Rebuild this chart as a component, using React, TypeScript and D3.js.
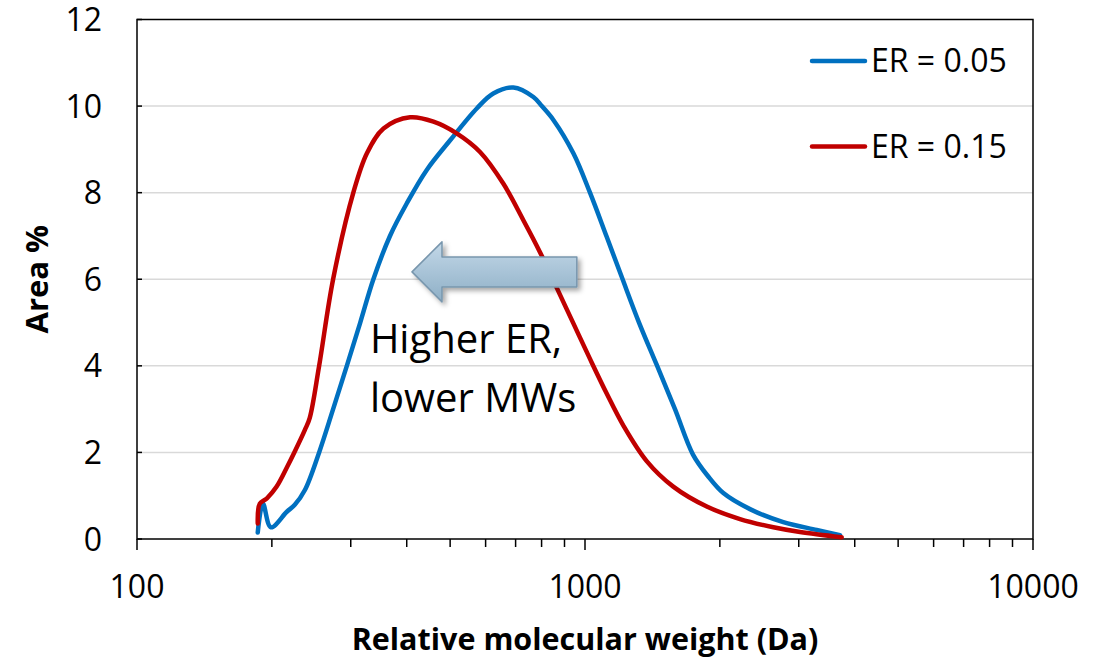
import { useEffect, useRef } from "react";
import * as d3 from "d3";

// ER = 0.05 series
const mwLow = [186, 191, 199, 216, 225, 237, 255, 274, 294, 315, 337, 367, 400, 443, 500, 574, 624, 692, 767, 801, 850, 942, 1026, 1118, 1208, 1320, 1446, 1588, 1742, 1882, 2036, 2335, 2771, 3290, 3709];
const areaLow = [0.15, 0.82, 0.27, 0.63, 0.79, 1.13, 2.0, 3.0, 4.0, 5.0, 6.0, 7.0, 7.75, 8.52, 9.21, 9.95, 10.29, 10.43, 10.21, 10.0, 9.68, 8.91, 8.0, 6.98, 6.05, 5.0, 4.02, 3.0, 1.95, 1.45, 1.06, 0.69, 0.39, 0.21, 0.09];

// ER = 0.15 series
const mwHigh = [186, 188, 195, 205, 216, 225, 237, 243, 255, 274, 304, 326, 355, 407, 459, 517, 583, 657, 728, 794, 865, 942, 1026, 1118, 1218, 1373, 1574, 1870, 2218, 2633, 3020, 3741];
const areaHigh = [0.36, 0.82, 0.94, 1.21, 1.65, 2.02, 2.52, 2.8, 4.0, 6.0, 8.0, 8.91, 9.48, 9.74, 9.64, 9.37, 8.94, 8.21, 7.37, 6.62, 5.8, 4.98, 4.16, 3.36, 2.62, 1.8, 1.21, 0.75, 0.46, 0.27, 0.16, 0.04];

const seriesNames = ["ER = 0.05", "ER = 0.15"];
const seriesColors = ["#0070C0", "#C00000"];
const yTicks = [0, 2, 4, 6, 8, 10, 12];
const xLabels = [100, 1000, 10000];

// annotation, in data units
const arrowTail = [959, 6.17];
const arrowTip = [411, 6.17];
const noteAt = [331, 4.3];
const noteLines = ["Higher ER,", "lower MWs"];

const FONT = "'Open Sans', sans-serif";

const App = () => {
  const svgRef = useRef<SVGSVGElement>(null);

  useEffect(() => {
    const width = 1107;
    const height = 660;
    const margin = { top: 19.5, right: 74, bottom: 121, left: 137 };

    const svg = d3.select(svgRef.current);
    svg.selectAll("*").remove();

    const x = d3.scaleLog()
      .domain([100, 10000])
      .range([margin.left, width - margin.right]);

    const y = d3.scaleLinear()
      .domain([0, 12])
      .range([height - margin.bottom, margin.top]);

    const defs = svg.append("defs");
    const grad = defs.append("linearGradient")
      .attr("id", "arrowFill")
      .attr("x1", 0).attr("y1", 0).attr("x2", 0).attr("y2", 1);
    grad.append("stop").attr("offset", "0%").attr("stop-color", "#c3d8e8");
    grad.append("stop").attr("offset", "100%").attr("stop-color", "#8eafc6");
    defs.append("filter")
      .attr("id", "shadow")
      .attr("x", "-20%").attr("y", "-40%").attr("width", "140%").attr("height", "180%")
      .append("feDropShadow")
      .attr("dx", 3).attr("dy", 3).attr("stdDeviation", 2.5)
      .attr("flood-color", "#000").attr("flood-opacity", 0.35);

    // gridlines
    svg.append("g")
      .selectAll("line")
      .data(yTicks.filter(d => d > 0 && d < 12))
      .join("line")
        .attr("x1", x(100)).attr("x2", x(10000))
        .attr("y1", d => y(d)).attr("y2", d => y(d))
        .attr("stroke", "#d9d9d9")
        .attr("stroke-width", 1.5);

    // frame
    svg.append("rect")
      .attr("x", x(100)).attr("y", y(12))
      .attr("width", x(10000) - x(100)).attr("height", y(0) - y(12))
      .attr("fill", "none")
      .attr("stroke", "#000")
      .attr("stroke-width", 1.5);

    // x ticks (major + minor, outward)
    const xt = x.ticks();
    svg.append("g")
      .selectAll("line")
      .data(xt)
      .join("line")
        .attr("x1", d => x(d)).attr("x2", d => x(d))
        .attr("y1", y(0))
        .attr("y2", d => y(0) + (xLabels.includes(d) ? 11 : 8))
        .attr("stroke", "#000")
        .attr("stroke-width", 1.5);

    svg.append("g")
      .selectAll("text")
      .data(xLabels)
      .join("text")
        .attr("x", d => x(d))
        .attr("y", y(0) + 59)
        .attr("text-anchor", "middle")
        .attr("font-family", FONT)
        .attr("font-size", 32)
        .attr("fill", "#000")
        .text(d => d);

    // y ticks (inward) and labels
    svg.append("g")
      .selectAll("line")
      .data(yTicks)
      .join("line")
        .attr("x1", x(100)).attr("x2", x(100) + 5)
        .attr("y1", d => y(d)).attr("y2", d => y(d))
        .attr("stroke", "#000")
        .attr("stroke-width", 1.5);

    svg.append("g")
      .selectAll("text")
      .data(yTicks)
      .join("text")
        .attr("x", 102)
        .attr("y", d => y(d) + 11.5)
        .attr("text-anchor", "end")
        .attr("font-family", FONT)
        .attr("font-size", 32)
        .attr("fill", "#000")
        .text(d => d);

    // axis titles
    svg.append("text")
      .attr("x", (x(100) + x(10000)) / 2)
      .attr("y", 650)
      .attr("text-anchor", "middle")
      .attr("font-family", FONT)
      .attr("font-weight", "bold")
      .attr("font-size", 30.5)
      .attr("fill", "#000")
      .text("Relative molecular weight (Da)");

    svg.append("text")
      .attr("transform", `translate(48, ${y(6)}) rotate(-90)`)
      .attr("text-anchor", "middle")
      .attr("font-family", FONT)
      .attr("font-weight", "bold")
      .attr("font-size", 31)
      .attr("fill", "#000")
      .text("Area %");

    // series
    const line = d3.line<[number, number]>()
      .x(d => x(d[0]))
      .y(d => y(d[1]))
      .curve(d3.curveCatmullRom.alpha(0.5));

    const series = [
      d3.zip(mwLow, areaLow) as [number, number][],
      d3.zip(mwHigh, areaHigh) as [number, number][],
    ];

    svg.append("g")
      .selectAll("path")
      .data(series)
      .join("path")
        .attr("d", d => line(d))
        .attr("fill", "none")
        .attr("stroke", (_, i) => seriesColors[i])
        .attr("stroke-width", 4.5)
        .attr("stroke-linejoin", "round")
        .attr("stroke-linecap", "round");

    // legend
    const legend = svg.append("g")
      .selectAll("g")
      .data(seriesNames)
      .join("g")
        .attr("transform", (_, i) => `translate(812, ${61 + i * 85.5})`);
    legend.append("line")
      .attr("x1", 0).attr("x2", 53)
      .attr("stroke", (_, i) => seriesColors[i])
      .attr("stroke-width", 4.5)
      .attr("stroke-linecap", "round");
    legend.append("text")
      .attr("x", 59)
      .attr("y", 11)
      .attr("font-family", FONT)
      .attr("font-size", 32)
      .attr("fill", "#000")
      .text(d => d);

    // arrow annotation
    const tipX = x(arrowTip[0]);
    const tailX = x(arrowTail[0]);
    const cy = y(arrowTip[1]);
    const headLen = 30, shaftH = 15, headH = 30;
    const pts: [number, number][] = [
      [tipX, cy],
      [tipX + headLen, cy - headH],
      [tipX + headLen, cy - shaftH],
      [tailX, cy - shaftH],
      [tailX, cy + shaftH],
      [tipX + headLen, cy + shaftH],
      [tipX + headLen, cy + headH],
    ];
    svg.append("polygon")
      .attr("points", pts.map(p => p.join(",")).join(" "))
      .attr("fill", "url(#arrowFill)")
      .attr("stroke", "#7896ad")
      .attr("stroke-width", 1.5)
      .attr("stroke-linejoin", "round")
      .attr("filter", "url(#shadow)");

    svg.append("g")
      .selectAll("text")
      .data(noteLines)
      .join("text")
        .attr("x", x(noteAt[0]))
        .attr("y", (_, i) => y(noteAt[1]) + i * 59)
        .attr("font-family", FONT)
        .attr("font-size", 40)
        .attr("fill", "#000")
        .text(d => d);
  }, []);

  return (
    <svg
      ref={svgRef}
      width={1107}
      height={660}
      style={{ position: "absolute", left: 0, top: 0, background: "#fff" }}
    />
  );
};

export default App;
